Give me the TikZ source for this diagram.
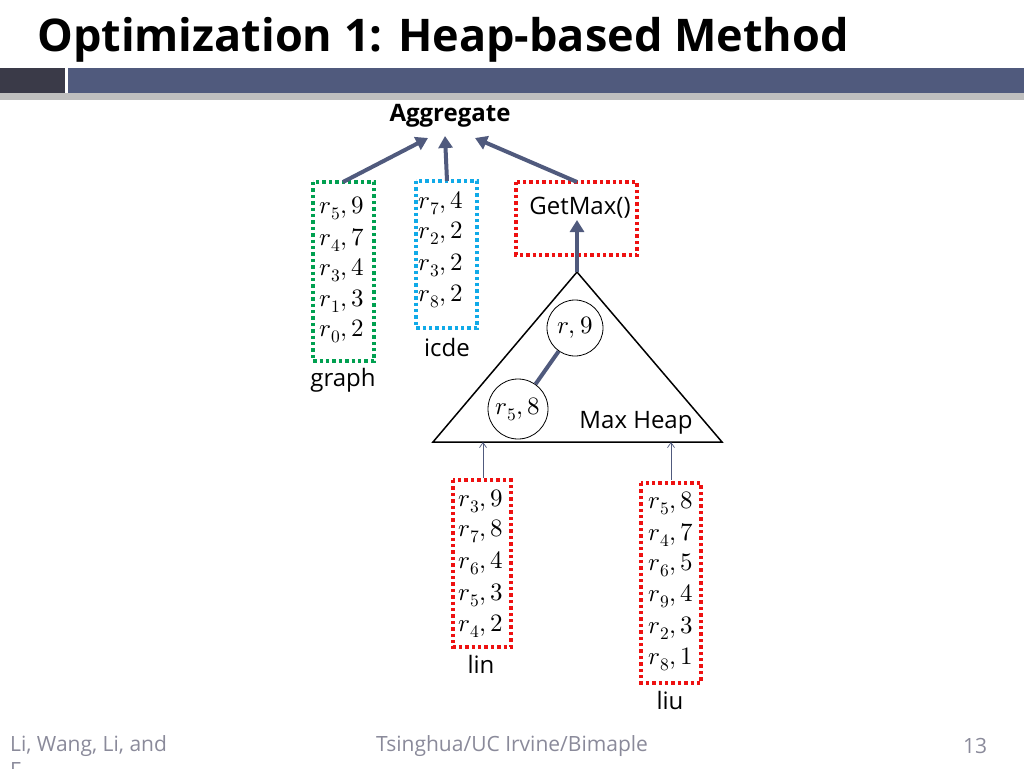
\documentclass[tikz,border=0pt]{standalone}
\usepackage{fontspec}
\setmainfont{Open Sans}
\usepackage{unicode-math}
\setmathfont{Latin Modern Math}
\usetikzlibrary{arrows.meta}
\definecolor{barblue}{HTML}{505A7D}
\definecolor{bardark}{HTML}{3A3A48}
\definecolor{dgreen}{HTML}{00A050}
\definecolor{dcyan}{HTML}{10AAE8}
\definecolor{dred}{HTML}{EE1111}
\definecolor{foot}{HTML}{8A8A9A}
\begin{document}
\begin{tikzpicture}[x=1pt,y=-1pt,
  box/.style={draw, line width=3.4pt, dash pattern=on 3.4pt off 3pt},
  ent/.style={inner sep=0pt, font=\fontsize{25}{28}\selectfont},
  lab/.style={font=\fontsize{24}{28}\selectfont, inner sep=0pt},
  big/.style={draw=barblue, line width=4pt, -{Triangle[length=12pt,width=14pt]}},
  thin/.style={draw=barblue, line width=0.7pt, -{Straight Barb[length=5pt,width=7pt]}},
  ft/.style={font=\fontsize{21}{24}\selectfont, text=foot, inner sep=0pt}]
\useasboundingbox (0,0) rectangle (1024,768);
\node[anchor=base west, font=\bfseries\fontsize{45}{50}\selectfont, inner sep=0pt] (title) at (37,52) {Optimization 1: Heap-based Method};
\fill[black!25] (0,93) rectangle (1024,100);
\fill[bardark] (0,68) rectangle (65,93);
\fill[barblue] (68,68) rectangle (1024,93);
\node[font=\bfseries\fontsize{24}{28}\selectfont, inner sep=2pt] (agg) at (450,116) {Aggregate};
\coordinate (a1) at (428,138); \coordinate (a2) at (445,136); \coordinate (a3) at (475,138);
% graph
\draw[box, dgreen] (313,182) rectangle (374,361);
\coordinate (g) at (343,182);
\foreach \t/\y in {{r_5,9}/208,{r_4,7}/240,{r_3,4}/270,{r_1,3}/301,{r_0,2}/331}
  \node[ent] at (342,\y) {$\t$};
\node[lab] (gl) at (343,380) {graph};
% icde
\draw[box, dcyan] (416,181) rectangle (477,328);
\coordinate (i) at (447,181);
\foreach \t/\y in {{r_7,4}/203,{r_2,2}/233,{r_3,2}/265,{r_8,2}/296}
  \node[ent] at (441,\y) {$\t$};
\node[lab] (il) at (447,347) {icde};
% getmax
\draw[box, dred] (516,182) rectangle (637,255);
\node[lab] (gm) at (580,208) {GetMax()};
\coordinate (gmt) at (577,182);
\coordinate (gmb) at (577,220);
\draw[big] (g) -- (a1);
\draw[big] (i) -- (a2);
\draw[big] (gmt) -- (a3);
% heap
\coordinate (apex) at (577,272);
\draw[line width=1.5pt] (apex) -- (722,442) -- (433,442) -- cycle;
\draw[big] (apex) -- (gmb);
\node[draw, circle, minimum size=56pt, inner sep=0pt, line width=0.8pt, fill=white, font=\fontsize{25}{28}\selectfont] (c1) at (575,328) {$r,9$};
\node[draw, circle, minimum size=60pt, inner sep=0pt, line width=0.8pt, fill=white, font=\fontsize{25}{28}\selectfont] (c2) at (518,409) {$r_5,8$};
\draw[barblue, line width=4pt] (c1) -- (c2);
\node[lab] (mh) at (636,423) {Max Heap};
% lin
\draw[box, dred] (453,480) rectangle (511,647);
\foreach \t/\y in {{r_3,9}/501,{r_7,8}/531,{r_6,4}/563,{r_5,3}/595,{r_4,2}/626}
  \node[ent] at (481,\y) {$\t$};
\node[lab] (ll) at (481,664) {lin};
\coordinate (lt) at (483,478); \coordinate (lh) at (483,442);
\draw[thin] (lt) -- (lh);
% liu
\draw[box, dred] (641,483) rectangle (701,683);
\foreach \t/\y in {{r_5,8}/503,{r_4,7}/535,{r_6,5}/565,{r_9,4}/596,{r_2,3}/628,{r_8,1}/659}
  \node[ent] at (671,\y) {$\t$};
\node[lab] (ul) at (670,700) {liu};
\coordinate (ut) at (671,480); \coordinate (uh) at (671,442);
\draw[thin] (ut) -- (uh);
% footer
\node[ft, anchor=west] (f1) at (10,746) {Li, Wang, Li, and};
\node[ft, anchor=north west] (f2) at (10,762) {F};
\node[ft] (f3) at (512,746) {Tsinghua/UC Irvine/Bimaple};
\node[ft] (f4) at (975,746) {13};
\end{tikzpicture}
\end{document}
